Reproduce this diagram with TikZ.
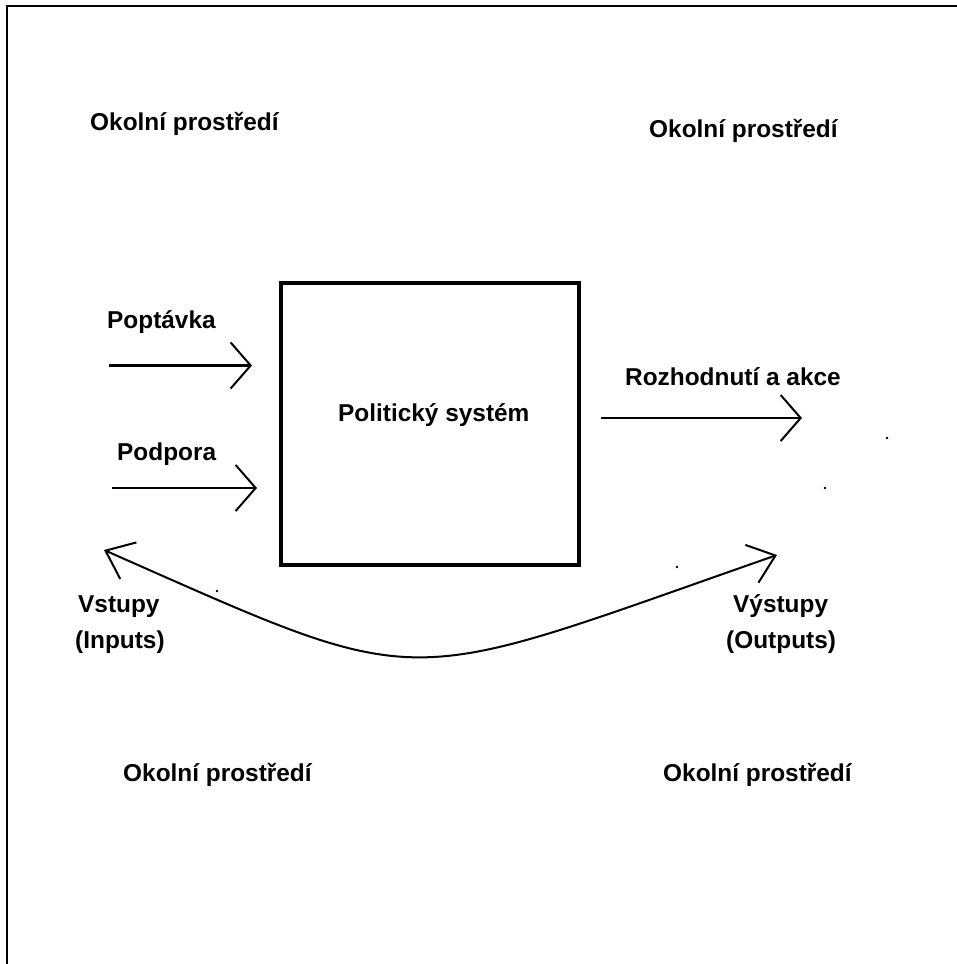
\documentclass[tikz,border=0pt]{standalone}
\usepackage{fontspec}
\setmainfont{Liberation Sans}
\usetikzlibrary{arrows.meta}
\tikzset{
  lbl/.style={anchor=base west, inner sep=0pt, font=\fontsize{24.4}{28}\selectfont\bfseries},
  flow/.style={line width=2.2pt, -{Straight Barb[length=20pt, width=46pt, line width=2pt]}},
  loop/.style={line width=2pt, {Straight Barb[length=25pt, width=40pt, line width=2pt]}-{Straight Barb[length=25pt, width=40pt, line width=2pt]}},
  frame/.style={line width=2.2pt},
  sysbox/.style={draw, line width=4.2pt, minimum width=298pt, minimum height=282pt, inner sep=0pt},
  speck/.style={fill=black, draw=none}
}
\begin{document}
\begin{tikzpicture}[x=1pt, y=-1pt]
\useasboundingbox (0,0) rectangle (957,964);
\fill[white] (0,0) rectangle (957,964);
% frame (only top and left edges visible)
\draw[frame] (7,975) -- (7,6) -- (970,6);

% system box
\node[sysbox] (sys) at (430,424) {};
\node[lbl] (syslbl) at (338,421.5) {Politický systém};

% environment labels
\node[lbl] (env1) at (90,130) {Okolní prostředí};
\node[lbl] (env2) at (649,137) {Okolní prostředí};
\node[lbl] (env3) at (123,781) {Okolní prostředí};
\node[lbl] (env4) at (663,781) {Okolní prostředí};

% inputs
\node[lbl] (popt) at (107,328) {Poptávka};
\node[lbl] (podp) at (117,460) {Podpora};
\coordinate (a1s) at (109,365.5);
\coordinate (a1e) at (252,365.5);
\coordinate (a2s) at (112,488);
\coordinate (a2e) at (257,488);
\draw[flow] (a1s) -- (a1e);
\draw[flow] (a2s) -- (a2e);

% output
\node[lbl] (rozh) at (625,385) {Rozhodnutí a akce};
\coordinate (a3s) at (601,418);
\coordinate (a3e) at (802,418);
\draw[flow] (a3s) -- (a3e);

% feedback curve
\node[lbl] (vst1) at (78,612) {Vstupy};
\node[lbl] (vst2) at (75,648) {(Inputs)};
\node[lbl] (vys1) at (733,612) {Výstupy};
\node[lbl] (vys2) at (726,648) {(Outputs)};
\coordinate (cl) at (104,550);
\coordinate (cr) at (777,555);
\draw[loop] (cl) .. controls (433,695) and (393,689) .. (cr);

% stray specks
\fill[speck] (887,438) circle (1.3);
\fill[speck] (825,488) circle (1.3);
\fill[speck] (677,567) circle (1.3);
\fill[speck] (217,591) circle (1.3);
\end{tikzpicture}
\end{document}
